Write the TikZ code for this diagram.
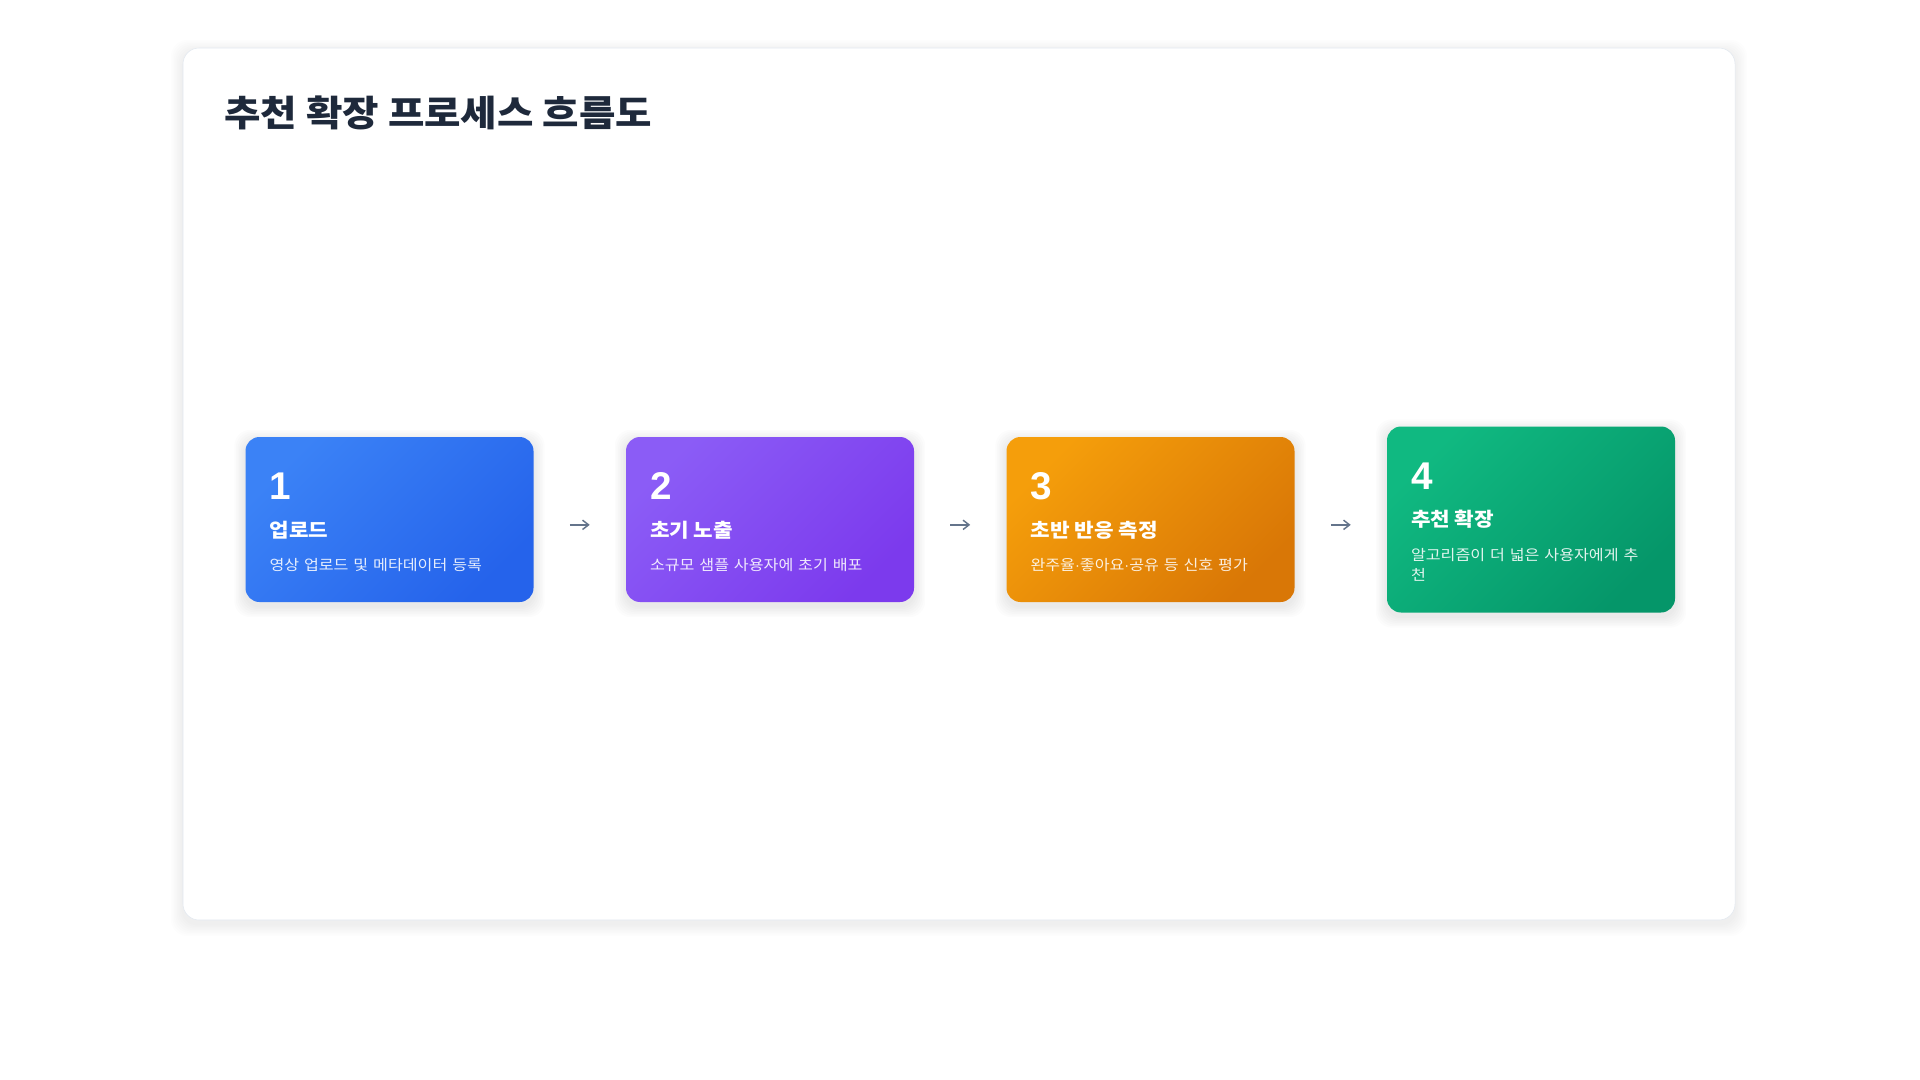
\documentclass[tikz,border=0pt]{standalone}
\usepackage{fontspec}
\setmainfont{Noto Sans CJK KR}[FakeStretch=1.1]
\newfontfamily\numfont{Liberation Sans}
\usetikzlibrary{arrows.meta,calc,positioning}
\definecolor{encre}{HTML}{1E293B}
\definecolor{gris}{HTML}{64748B}
\definecolor{bord}{HTML}{E2E8F0}
\definecolor{bleuA}{HTML}{3B82F6}
\definecolor{bleuB}{HTML}{2563EB}
\definecolor{violetA}{HTML}{8B5CF6}
\definecolor{violetB}{HTML}{7C3AED}
\definecolor{orangeA}{HTML}{F59E0B}
\definecolor{orangeB}{HTML}{D97706}
\definecolor{vertA}{HTML}{10B981}
\definecolor{vertB}{HTML}{059669}

\begin{document}
\begin{tikzpicture}[x=0.75pt,y=-0.75pt,
  carte/.style={rounded corners=10.5pt,minimum width=216pt,inner sep=0pt},
  ombre/.style={black,opacity=0.013,rounded corners=12pt},
  numero/.style={anchor=base west,inner sep=0pt,text=white,font=\numfont\bfseries\fontsize{29pt}{34pt}\selectfont},
  etape/.style={anchor=base west,inner sep=0pt,text=white,font=\bfseries\fontsize{14.5pt}{18pt}\selectfont},
  detail/.style={anchor=base west,inner sep=0pt,text=white,text opacity=0.88,
    text width=200pt,align=left,font=\fontsize{11pt}{15pt}\selectfont},
  fleche/.style={gris,line width=1.1pt,-{Straight Barb[length=4.5pt,width=7pt]},shorten <=27pt,shorten >=27pt}]
\useasboundingbox[fill=white] (0,0) rectangle (1920,1080);

\foreach \e in {1,...,8} \fill [ombre,opacity=0.008] (183-\e*1.5,48-\e*1.5+4) rectangle (1735+\e*1.5,920+\e*1.5+4);
\draw [bord,fill=white,rounded corners=12pt] (183,48) rectangle (1735,920);
\node [anchor=base west,inner sep=0pt,text=encre,font=\bfseries\fontsize{27pt}{34pt}\selectfont] (titre) at (224,127) {추천 확장 프로세스 흐름도};

\foreach \i/\xc/\hc/\ca/\cb/\nom/\desc in {
  1/389.5/165/bleuA/bleuB/업로드/영상 업로드 및 메타데이터 등록,
  2/770/165/violetA/violetB/초기 노출/소규모 샘플 사용자에 초기 배포,
  3/1150.5/165/orangeA/orangeB/초반 반응 측정/{완주율{\numfont·}좋아요{\numfont·}공유 등 신호 평가},
  4/1531/186/vertA/vertB/추천 확장/{알고리즘이 더 넓은 사용자에게 추\\천}} {
  \foreach \e in {1,...,7} \fill [ombre] (\xc-144-\e*1.6,519.5-\hc/2+4-\e*1.6) rectangle (\xc+144+\e*1.6,519.5+\hc/2+4+\e*1.6);
  \node [carte,top color=\ca,bottom color=\cb,shading angle=45,minimum height=\hc*0.75pt] (c\i) at (\xc,519.5) {};
  \node [numero] (n\i) at ($(c\i.north west)+(24,63)$) {\i};
  \node [etape] (t\i) at ($(c\i.north west)+(24,100.5)$) {\nom};
  \node [detail] (d\i) at ($(c\i.north west)+(24,134)$) {\desc};
}

\foreach \i/\j in {1/2,2/3,3/4} \draw [fleche] ([yshift=-4pt]c\i.east) -- ([yshift=-4pt]c\j.west);
\end{tikzpicture}
\end{document}
